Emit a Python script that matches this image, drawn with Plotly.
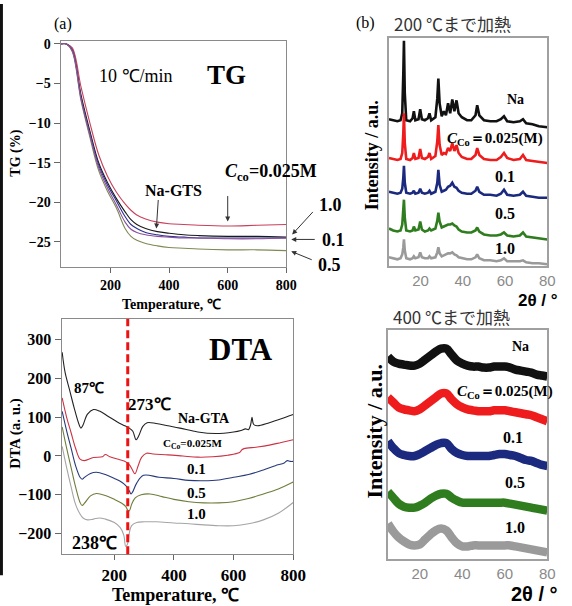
import plotly.graph_objects as go

W, H = 572, 606
SERIF = "Liberation Serif, Times New Roman, serif"
SANS = "Liberation Sans, Arial, sans-serif"
CJK = "Noto Sans CJK JP"

# ---------------- TG data (%) ----------------
tg_temp = [30, 50, 70, 100, 130, 160, 190, 220, 250, 270, 290, 320, 360, 400, 450, 500, 600, 700, 800]
tg_na = [0, 0, -0.8, -6.5, -11, -15, -17.5, -19.5, -21.2, -22.2, -22.8, -23.3, -23.7, -23.9, -24.1, -24.2, -24.3, -24.3, -24.4]
tg_c0025 = [0, 0, -0.5, -5.5, -10, -14, -16.7, -18.7, -20.2, -21.0, -21.6, -22.1, -22.5, -22.7, -22.8, -22.9, -23.0, -22.9, -22.8]
tg_c01 = [0, 0, -0.8, -6.8, -11.3, -15.3, -17.8, -19.8, -21.8, -22.8, -23.3, -23.8, -24.1, -24.3, -24.4, -24.5, -24.5, -24.5, -24.5]
tg_c05 = [0, 0, -1.0, -7.2, -11.8, -16.0, -18.6, -20.7, -23.3, -24.3, -24.8, -25.2, -25.5, -25.7, -25.8, -25.9, -26.0, -26.0, -26.1]
tg_c10 = [0, 0, -0.9, -7.0, -11.5, -15.6, -18.2, -20.3, -22.5, -23.4, -23.8, -24.1, -24.3, -24.4, -24.5, -24.5, -24.6, -24.6, -24.5]

# ---------------- DTA data (a.u.) ----------------
dta_na_t = [25, 35, 50, 65, 80, 88, 95, 110, 130, 150, 180, 210, 235, 250, 262, 273, 282, 295, 310, 340, 380, 420, 480, 540, 600, 625, 640, 650, 657, 662, 667, 680, 720, 760, 800]
dta_na = [268, 215, 170, 125, 85, 72, 80, 108, 120, 116, 102, 88, 78, 72, 64, 42, 52, 76, 86, 84, 78, 72, 62, 58, 62, 66, 70, 68, 80, 100, 82, 78, 86, 96, 107]
dta_c0025_t = [25, 40, 55, 70, 85, 100, 130, 160, 170, 185, 210, 233, 250, 260, 269, 280, 292, 308, 330, 380, 430, 480, 530, 580, 620, 628, 635, 680, 720, 760, 800]
dta_c0025 = [150, 100, 60, 20, -8, -12, -4, -2, 4, -2, -8, -13, -22, -35, -46, -25, -3, 7, 5, 3, 0, -3, -2, 2, 9, 16, 19, 23, 28, 35, 42]
dta_c01_t = [25, 40, 55, 70, 85, 92, 100, 120, 140, 170, 200, 225, 240, 250, 256, 262, 275, 298, 350, 400, 450, 500, 550, 600, 650, 700, 740, 770, 780, 790, 800]
dta_c01 = [115, 65, 20, -25, -55, -60, -55, -45, -42, -48, -58, -68, -78, -90, -98, -92, -70, -50, -55, -58, -63, -64, -62, -55, -48, -36, -25, -18, -12, -14, -14]
dta_c05_t = [25, 40, 55, 70, 85, 92, 100, 120, 140, 170, 200, 225, 238, 245, 250, 258, 270, 290, 320, 360, 400, 450, 500, 550, 600, 650, 700, 750, 800]
dta_c05 = [75, 20, -30, -80, -120, -128, -122, -103, -97, -102, -112, -122, -130, -140, -142, -125, -108, -100, -98, -105, -112, -118, -121, -121, -118, -110, -98, -85, -67]
dta_c10_t = [25, 40, 55, 70, 85, 95, 110, 130, 150, 170, 200, 220, 232, 238, 244, 250, 258, 275, 300, 340, 400, 450, 500, 550, 600, 650, 700, 750, 800]
dta_c10 = [25, -30, -80, -125, -150, -160, -165, -163, -160, -163, -172, -185, -205, -233, -228, -200, -180, -172, -170, -170, -173, -175, -178, -180, -180, -175, -165, -148, -120]
dta_mark_t = [245]

# ---------------- XRD after heating to 200 C (stacked, a.u.) ----------------
xrd200_2theta = [5, 7, 9, 10.5, 11.3, 11.8, 12.1, 12.5, 13.2, 15, 16.2, 16.8, 17.5, 19, 19.8, 20.6, 22, 23.5, 24.2, 25,
                 27, 27.9, 28.4, 29, 30, 31, 32, 33, 34, 35, 36, 37, 38, 39.5, 42, 44, 46, 46.8, 47.8, 50,
                 53, 56, 58, 59.5, 61, 64, 67, 68.5, 70, 73, 76, 80]
xrd200_na = [148, 147, 146, 147, 154, 194, 227, 174, 147, 146, 149, 156, 147, 148, 158, 148, 147, 149, 154, 147,
             150, 169, 189, 164, 151, 156, 152, 164, 154, 168, 156, 167, 154, 150, 147, 147, 152, 162, 152, 147,
             146, 146, 148, 151, 146, 145, 146, 148, 144, 143, 141, 140]
xrd200_c0025 = [109, 108, 107, 108, 114, 134, 154, 124, 108, 107, 109, 114, 108, 109, 118, 109, 108, 110, 114, 108,
                111, 126, 142, 122, 112, 114, 113, 119, 116, 124, 116, 122, 114, 110, 108, 108, 112, 119, 112, 108,
                107, 107, 110, 114, 109, 107, 108, 112, 107, 106, 105, 104]
xrd200_c01 = [75, 74, 73, 74, 78, 89, 101, 84, 74, 73, 74, 76, 73, 74, 78, 74, 73, 74, 76, 73,
              75, 84, 97, 82, 75, 76, 77, 80, 81, 84, 80, 79, 76, 74, 73, 73, 76, 80, 75, 72,
              72, 71, 73, 77, 72, 71, 72, 75, 71, 70, 69, 69]
xrd200_c05 = [38, 36, 35, 36, 42, 54, 67, 49, 36, 35, 36, 40, 36, 37, 45, 37, 35, 36, 38, 36,
              38, 46, 54, 45, 39, 40, 41, 42, 42, 43, 41, 40, 37, 35, 34, 34, 36, 39, 35, 32,
              31, 31, 32, 34, 31, 30, 31, 34, 30, 29, 28, 27]
xrd200_c10 = [9, 8, 7, 8, 12, 19, 27, 16, 8, 7, 8, 10, 8, 9, 14, 9, 8, 8, 10, 8,
              9, 14, 19, 13, 10, 11, 12, 13, 13, 14, 12, 11, 9, 8, 7, 7, 9, 12, 8, 6,
              6, 5, 6, 8, 5, 5, 5, 6, 4, 3, 3, 2]

# ---------------- XRD after heating to 400 C (stacked, a.u.) ----------------
xrd400_2theta = [5, 7.5, 10, 12.5, 15, 17.5, 20, 22.5, 25, 27.5, 30, 32.5, 35, 37.5, 40, 42.5,
                 45, 47.5, 50, 52.5, 55, 57.5, 60, 62.5, 65, 67.5, 70, 72.5, 75, 77.5, 80]
xrd400_na = [204, 199, 197, 196, 195, 195, 197, 201, 205, 209, 212, 212, 206, 200, 197, 195,
             194, 194, 193, 193, 194, 194, 194, 193, 191, 190, 189, 188, 186, 185, 184]
xrd400_c0025 = [163, 158, 153, 151, 150, 149, 151, 155, 159, 163, 167, 167, 161, 156, 153, 151,
                150, 149, 149, 149, 150, 150, 150, 149, 148, 147, 146, 145, 143, 141, 139]
xrd400_c01 = [119, 112, 107, 105, 104, 104, 106, 109, 112, 115, 117, 117, 111, 107, 105, 104,
              104, 104, 104, 104, 105, 106, 106, 105, 104, 102, 100, 99, 97, 95, 94]
xrd400_c05 = [68, 62, 56, 53, 52, 52, 54, 57, 61, 64, 66, 66, 62, 59, 57, 57,
              57, 57, 57, 57, 57, 57, 57, 56, 55, 54, 53, 52, 51, 50, 49]
xrd400_c10 = [36, 28, 22, 18, 15, 14, 15, 20, 25, 29, 31, 29, 22, 16, 13, 13,
              14, 14, 14, 14, 14, 14, 14, 14, 13, 12, 11, 10, 9, 8, 7]

temp_ticks = [200, 400, 600, 800]
tg_ticks = [0, -5, -10, -15, -20, -25]
dta_ticks = [300, 200, 100, 0, -100, -200]
xrd_ticks = [20, 40, 60, 80]

fig = go.Figure()

tg_series = [(tg_na, "#1a1a1a"), (tg_c0025, "#c8405a"), (tg_c01, "#2b2f8f"),
             (tg_c05, "#7d8a52"), (tg_c10, "#8a4f9e")]
for ys, c in tg_series:
    fig.add_trace(go.Scatter(x=tg_temp, y=ys, mode="lines", line=dict(color=c, width=1.1, shape="spline"),
                             xaxis="x", yaxis="y", showlegend=False, hoverinfo="skip"))

dta_series = [(dta_na_t, dta_na, "#222222"), (dta_c0025_t, dta_c0025, "#cc3344"),
              (dta_c01_t, dta_c01, "#263a7a"), (dta_c05_t, dta_c05, "#6f7d3c"),
              (dta_c10_t, dta_c10, "#a5a5a5")]
for xs, ys, c in dta_series:
    fig.add_trace(go.Scatter(x=xs, y=ys, mode="lines", line=dict(color=c, width=1.1, shape="spline"),
                             xaxis="x2", yaxis="y2", showlegend=False, hoverinfo="skip"))

x200_series = [(xrd200_na, "#111111"), (xrd200_c0025, "#ee1c1c"), (xrd200_c01, "#1b2a7e"),
               (xrd200_c05, "#2f7d1e"), (xrd200_c10, "#9a9a9a")]
for ys, c in x200_series:
    fig.add_trace(go.Scatter(x=xrd200_2theta, y=ys, mode="lines", line=dict(color=c, width=2.6),
                             xaxis="x3", yaxis="y3", showlegend=False, hoverinfo="skip"))

x400_series = [(xrd400_na, "#111111"), (xrd400_c0025, "#ee1c1c"), (xrd400_c01, "#1b2a7e"),
               (xrd400_c05, "#2f7d1e"), (xrd400_c10, "#9a9a9a")]
for ys, c in x400_series:
    fig.add_trace(go.Scatter(x=xrd400_2theta, y=ys, mode="lines", line=dict(color=c, width=8.5, shape="spline"),
                             xaxis="x4", yaxis="y4", showlegend=False, hoverinfo="skip"))


def dom_x(a, b):
    return [a / W, b / W]


def dom_y(top, bottom):
    return [1 - bottom / H, 1 - top / H]


box = dict(showline=True, mirror=True, linecolor="#8a8a8a", linewidth=1, showgrid=False, zeroline=False)
xbox = {**box, "linecolor": "#a0a0a0", "linewidth": 1.5}
tfont = lambda s: dict(family=SERIF, size=s, color="black", weight="bold")

fig.update_layout(
    width=W, height=H, margin=dict(l=0, r=0, t=0, b=0),
    paper_bgcolor="white", plot_bgcolor="white", showlegend=False,
    xaxis=dict(domain=dom_x(62, 293), range=[30, 800], anchor="y", tickvals=temp_ticks,
               ticks="outside", ticklen=5, tickcolor="#666", tickfont=tfont(14), **box),
    yaxis=dict(domain=dom_y(37, 265), range=[-28.2, 0.4], anchor="x", tickvals=tg_ticks,
               ticks="outside", ticklen=6, tickcolor="#666", tickfont=tfont(14), **box),
    xaxis2=dict(domain=dom_x(63, 300), range=[23, 800], anchor="y2", tickvals=temp_ticks,
                ticks="outside", ticklen=5, tickcolor="#666", tickfont=tfont(17), **box),
    yaxis2=dict(domain=dom_y(317, 554), range=[-254, 354], anchor="x2", tickvals=dta_ticks,
                ticks="outside", ticklen=6, tickcolor="#666", tickfont=tfont(16), **box),
    xaxis3=dict(domain=dom_x(398, 560), range=[5, 80], anchor="y3", tickvals=xrd_ticks,
                ticks="", tickfont=dict(family=SANS, size=15, color="#8a8a8a"), **xbox),
    yaxis3=dict(domain=dom_y(34, 264), range=[0, 230], anchor="x3", showticklabels=False, ticks="", **xbox),
    xaxis4=dict(domain=dom_x(397, 560), range=[5, 80], anchor="y4", tickvals=xrd_ticks,
                ticks="", tickfont=dict(family=SANS, size=15, color="#8a8a8a"), **xbox),
    yaxis4=dict(domain=dom_y(328, 559), range=[0, 231], anchor="x4", showticklabels=False, ticks="", **xbox),
)

# red dashed marker line in DTA
fig.add_shape(type="line", xref="x2", yref="y2 domain", x0=dta_mark_t[0], x1=dta_mark_t[0], y0=0, y1=1,
              line=dict(color="#ee1111", width=3, dash="8px,4px"))
# dark strip at left edge of the scan
fig.add_shape(type="rect", xref="paper", yref="paper", x0=0, x1=3 / W, y0=1 - 575 / H, y1=1,
              fillcolor="#111", line=dict(width=0), layer="below")


def ann(text, x, y, size, bold=True, color="black", family=SERIF, angle=0, xanchor="center"):
    return dict(text=text, x=x / W, y=1 - y / H, xref="paper", yref="paper", showarrow=False,
                font=dict(family=family, size=size, color=color, weight="bold" if bold else "normal"),
                xanchor=xanchor, yanchor="middle", textangle=angle)


def arrow(tx, ty, hx, hy):
    return dict(text="", x=hx / W, y=1 - hy / H, xref="paper", yref="paper", showarrow=True,
                ax=tx - hx, ay=ty - hy, arrowhead=2, arrowsize=1, arrowwidth=1, arrowcolor="#333")


anns = [
    ann("(a)", 64, 20, 16, bold=False),
    ann("10 ℃/min", 139, 72, 18, bold=False),
    ann("TG", 232, 71, 27),
    ann("TG (%)", 16, 150, 14, angle=-90),
    ann("Temperature, ℃", 175, 302, 14),
    ann("Na-GTS", 178, 188, 16),
    ann("<i>C</i><sub>co</sub>=0.025M", 277, 170, 18),
    ann("1.0", 338, 202, 18),
    ann("0.1", 341, 238, 18),
    ann("0.5", 337, 263, 18),
    arrow(162, 196, 160, 226),
    arrow(233, 192, 233, 219),
    arrow(321, 208, 299, 232),
    arrow(323, 237, 298, 237),
    arrow(320, 258, 298, 249),
    # DTA
    ann("DTA", 247, 348, 31),
    ann("87℃", 91, 387, 15),
    ann("273℃", 153, 403, 17),
    ann("Na-GTA", 209, 417, 14),
    ann("C<sub>Co</sub>=0.025M", 197, 443, 11),
    ann("0.1", 201, 468, 15),
    ann("0.5", 201, 492, 15),
    ann("1.0", 201, 513, 15),
    ann("238℃", 97, 543, 18),
    ann("DTA (a. u.)", 16, 432, 15, angle=-90),
    ann("Temperature, ℃", 180, 595, 18),
    # XRD
    ann("(b)", 374, 19, 16, bold=False),
    ann("200 ℃まで加熱", 463, 20, 17, bold=False, color="#333", family=CJK),
    ann("400 ℃まで加熱", 462, 315, 17, bold=False, color="#333", family=CJK),
    ann("Intensity / a.u.", 381, 152, 18, angle=-90),
    ann("Intensity / a.u.", 383, 430, 22, angle=-90),
    ann("Na", 527, 96, 14),
    ann("<i>C</i><sub>Co</sub>＝0.025(M)", 507, 136, 15),
    ann("0.1", 517, 174, 16),
    ann("0.5", 517, 211, 16),
    ann("1.0", 517, 246, 16),
    ann("Na", 533, 345, 14),
    ann("<i>C</i><sub>Co</sub>＝0.025(M)", 517, 391, 15),
    ann("0.1", 525, 436, 16),
    ann("0.5", 527, 482, 16),
    ann("1.0", 527, 527, 16),
    ann("2θ / °", 550, 298, 17, family=SANS),
    ann("2θ / °", 547, 594, 20, family=SANS),
]
fig.update_layout(annotations=anns)

fig.write_html("out.html", config={"displayModeBar": False},
               post_script="document.body.style.margin='0';document.body.style.padding='0';"
                           "document.body.style.overflow='hidden';")
